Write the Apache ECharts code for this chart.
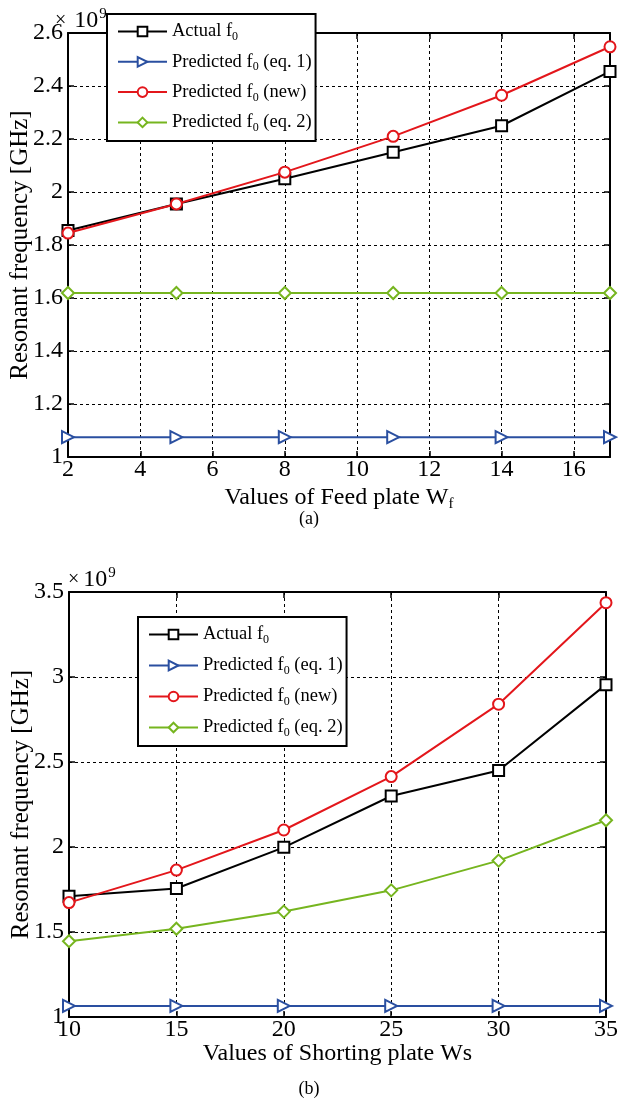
<!DOCTYPE html>
<html>
<head>
<meta charset="utf-8">
<script src="https://cdn.jsdelivr.net/npm/echarts@6/dist/echarts.min.js"></script>
<style>
html,body{margin:0;padding:0;background:#fff;}
#c{width:618px;height:1102px;}
</style>
</head>
<body>
<div id="c"></div>
<script>
// ---- data (values in units of 1e9 Hz) ----
const xA = [2, 5, 8, 11, 14, 17];
const actualA = [1.855, 1.955, 2.05, 2.15, 2.25, 2.455];
const eq1A = [1.075, 1.075, 1.075, 1.075, 1.075, 1.075];
const newA = [1.845, 1.955, 2.075, 2.21, 2.365, 2.548];
const eq2A = [1.619, 1.619, 1.619, 1.619, 1.619, 1.619];

const xB = [10, 15, 20, 25, 30, 35];
const actualB = [1.71, 1.756, 1.998, 2.30, 2.45, 2.955];
const eq1B = [1.065, 1.065, 1.065, 1.065, 1.065, 1.065];
const newB = [1.673, 1.864, 2.10, 2.414, 2.84, 3.437];
const eq2B = [1.446, 1.519, 1.62, 1.745, 1.92, 2.157];

const seriesNames = ['Actual f0', 'Predicted f0 (eq. 1)', 'Predicted f0 (new)', 'Predicted f0 (eq. 2)'];
const legendRich = {
  ['Actual f0']: '{t|Actual f}{s|0}',
  ['Predicted f0 (eq. 1)']: '{t|Predicted f}{s|0}{t| (eq. 1)}',
  ['Predicted f0 (new)']: '{t|Predicted f}{s|0}{t| (new)}',
  ['Predicted f0 (eq. 2)']: '{t|Predicted f}{s|0}{t| (eq. 2)}'
};

const FONT = '"Liberation Serif", "DejaVu Serif", serif';
const colors = ['#000000', '#2a4fa0', '#e3161b', '#76b51f'];
const symbols = ['emptyRect', 'emptyTriangle', 'emptyCircle', 'emptyDiamond'];
const symRot = [0, -90, 0, 0];
const symSize = [11, 12, 11, 12];

function zip(xs, ys){ return xs.map((x,i)=>[x, ys[i]]); }

const chart = echarts.init(document.getElementById('c'), null, {renderer:'canvas'});

function mkAxes(gi, xmin, xmax, xint, ymin, ymax, yint, xname, xgap) {
  const lab = {fontFamily: FONT, fontSize: 24, color: '#000'};
  return {
    x: [{
      type: 'value', gridIndex: gi, min: xmin, max: xmax, interval: xint,
      axisLine: {show: true, onZero: false, lineStyle: {color: '#000', width: 2}},
      axisTick: {show: true, inside: true, length: 6, lineStyle: {color: '#000', width: 1.5}},
      axisLabel: Object.assign({margin: 1, showMaxLabel: (xmax % xint === 0)}, lab),
      splitLine: {show: true, lineStyle: {color: '#000', width: 1, type: [3, 3]}},
      name: xname, nameLocation: 'middle', nameGap: xgap, nameMoveOverlap: false,
      nameTextStyle: {fontFamily: FONT, fontSize: 24, color: '#000',
        rich: {t: {fontFamily: FONT, fontSize: 24, color: '#000'},
               s: {fontFamily: FONT, fontSize: 15, color: '#000', verticalAlign: 'bottom', padding: [14,0,0,0]}}}
    }, {
      type: 'value', gridIndex: gi, position: 'top', min: xmin, max: xmax, interval: xint,
      axisLine: {show: true, lineStyle: {color: '#000', width: 2}},
      axisTick: {show: true, inside: true, length: 6, lineStyle: {color: '#000', width: 1.5}},
      axisLabel: {show: false}, splitLine: {show: false}
    }],
    y: [{
      type: 'value', gridIndex: gi, min: ymin, max: ymax, interval: yint,
      axisLine: {show: true, onZero: false, lineStyle: {color: '#000', width: 2}},
      axisTick: {show: true, inside: true, length: 6, lineStyle: {color: '#000', width: 1.5}},
      axisLabel: Object.assign({margin: 5}, lab),
      splitLine: {show: true, lineStyle: {color: '#000', width: 1, type: [3, 3]}},
      name: 'Resonant frequency [GHz]', nameLocation: 'middle', nameGap: 35, nameMoveOverlap: false,
      nameTextStyle: {fontFamily: FONT, fontSize: 25, color: '#000'}
    }, {
      type: 'value', gridIndex: gi, position: 'right', min: ymin, max: ymax, interval: yint,
      axisLine: {show: true, lineStyle: {color: '#000', width: 2}},
      axisTick: {show: true, inside: true, length: 6, lineStyle: {color: '#000', width: 1.5}},
      axisLabel: {show: false}, splitLine: {show: false}
    }]
  };
}

const axA = mkAxes(0, 2, 17, 2, 1, 2.6, 0.2, '{t|Values of Feed plate W}{s|f}', 26);
const axB = mkAxes(1, 10, 35, 5, 1, 3.5, 0.5, 'Values of Shorting plate Ws', 25);

const seriesA = [actualA, eq1A, newA, eq2A];
const seriesB = [actualB, eq1B, newB, eq2B];

function mkSeries(data, xs, xi, yi) {
  return data.map((ys, k) => ({
    name: seriesNames[k], type: 'line', xAxisIndex: xi, yAxisIndex: yi,
    data: zip(xs, ys), symbol: symbols[k], symbolSize: symSize[k], symbolRotate: symRot[k],
    showAllSymbol: true, animation: false,
    lineStyle: {color: colors[k], width: 2},
    itemStyle: {color: colors[k], borderColor: colors[k], borderWidth: 2},
    z: 3 + (k === 2 ? 1 : 0)
  }));
}

function mkLegend(left, top, gap) {
  return {
    left: left, top: top, orient: 'vertical',
    backgroundColor: '#fff', borderColor: '#000', borderWidth: 2,
    padding: [8, 4, 7, 10], itemGap: gap, itemWidth: 49, itemHeight: 12,
    data: seriesNames,
    formatter: n => legendRich[n],
    textStyle: {fontFamily: FONT, fontSize: 18.5, color: '#000',
      rich: {t: {fontFamily: FONT, fontSize: 18.5, color: '#000'},
             s: {fontFamily: FONT, fontSize: 12, color: '#000', padding: [11, 0, 0, 0]}}}
  };
}

const legA = mkLegend(107, 14, 9.3);
const legB = mkLegend(138, 617, 10);

const option = {
  animation: false,
  backgroundColor: '#fff',
  grid: [
    {left: 68, right: 8, top: 33, height: 424, show: false, outerBoundsMode: 'none', containLabel: false},
    {left: 69, right: 12, top: 592, height: 425, show: false, outerBoundsMode: 'none', containLabel: false}
  ],
  xAxis: [axA.x[0], axA.x[1], axB.x[0], axB.x[1]],
  yAxis: [axA.y[0], axA.y[1], axB.y[0], axB.y[1]],
  legend: [legA, legB],
  series: mkSeries(seriesA, xA, 0, 0).concat(mkSeries(seriesB, xB, 2, 2)),
  graphic: [
    {type: 'text', left: 55, top: 7, z: 1, style: {text: '{m|×}{t|10}{s|9}', rich: {
      m: {fontFamily: FONT, fontSize: 20, fill: '#000', padding: [0, 8, 0, 0]},
      t: {fontFamily: FONT, fontSize: 24, fill: '#000'},
      s: {fontFamily: FONT, fontSize: 15, fill: '#000', verticalAlign: 'top', padding: [0,0,12,1]}}}},
    {type: 'text', left: 68, top: 566, z: 1, style: {text: '{m|×}{t|10}{s|9}', rich: {
      m: {fontFamily: FONT, fontSize: 20, fill: '#000', padding: [0, 4, 0, 0]},
      t: {fontFamily: FONT, fontSize: 24, fill: '#000'},
      s: {fontFamily: FONT, fontSize: 15, fill: '#000', verticalAlign: 'top', padding: [0,0,12,1]}}}},
    {type: 'text', left: 'center', top: 510, style: {text: '(a)', font: '18px ' + FONT, fill: '#000'}},
    {type: 'text', left: 'center', top: 1080, style: {text: '(b)', font: '18px ' + FONT, fill: '#000'}}
  ]
};
chart.setOption(option);
</script>
</body>
</html>
